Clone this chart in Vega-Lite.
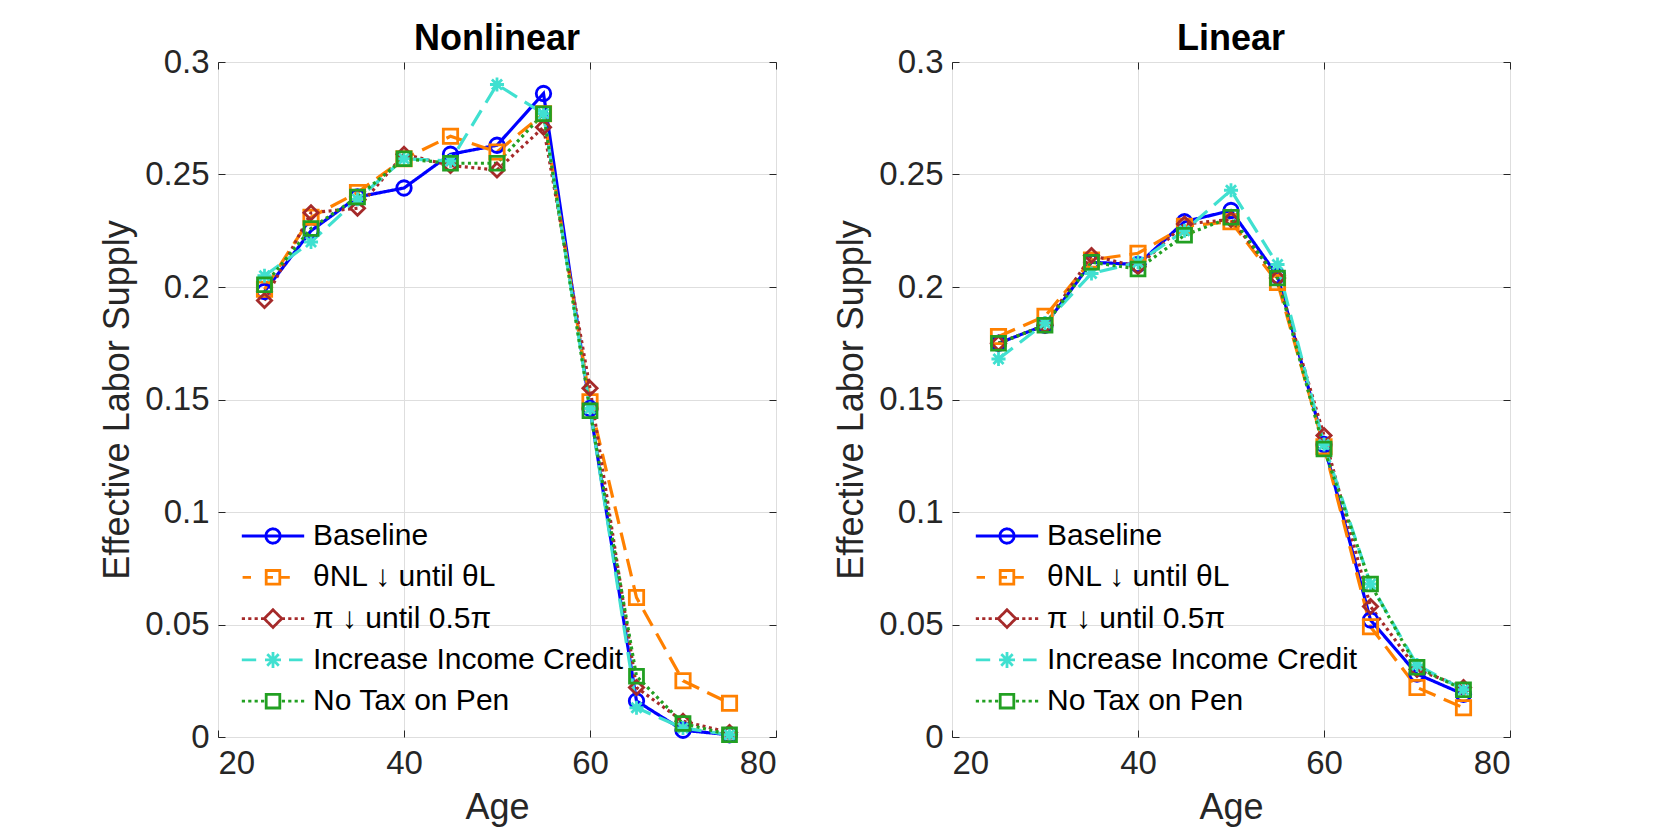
{
  "$schema": "https://vega.github.io/schema/vega-lite/v6.json",
  "autosize": {"type": "none"},
  "padding": {"left": 218, "top": 62, "right": 1449, "bottom": 771},
  "background": "white",
  "spacing": 176,
  "bounds": "flush",
  "datasets": {
    "pts": [
      {"panel": "Nonlinear", "series": "Baseline", "age": 25, "value": 0.198},
      {"panel": "Nonlinear", "series": "Baseline", "age": 30, "value": 0.225},
      {"panel": "Nonlinear", "series": "Baseline", "age": 35, "value": 0.240},
      {"panel": "Nonlinear", "series": "Baseline", "age": 40, "value": 0.244},
      {"panel": "Nonlinear", "series": "Baseline", "age": 45, "value": 0.259},
      {"panel": "Nonlinear", "series": "Baseline", "age": 50, "value": 0.263},
      {"panel": "Nonlinear", "series": "Baseline", "age": 55, "value": 0.286},
      {"panel": "Nonlinear", "series": "Baseline", "age": 60, "value": 0.146},
      {"panel": "Nonlinear", "series": "Baseline", "age": 65, "value": 0.016},
      {"panel": "Nonlinear", "series": "Baseline", "age": 70, "value": 0.003},
      {"panel": "Nonlinear", "series": "Baseline", "age": 75, "value": 0.001},
      {"panel": "Nonlinear", "series": "θNL ↓ until θL", "age": 25, "value": 0.199},
      {"panel": "Nonlinear", "series": "θNL ↓ until θL", "age": 30, "value": 0.231},
      {"panel": "Nonlinear", "series": "θNL ↓ until θL", "age": 35, "value": 0.242},
      {"panel": "Nonlinear", "series": "θNL ↓ until θL", "age": 40, "value": 0.257},
      {"panel": "Nonlinear", "series": "θNL ↓ until θL", "age": 45, "value": 0.267},
      {"panel": "Nonlinear", "series": "θNL ↓ until θL", "age": 50, "value": 0.260},
      {"panel": "Nonlinear", "series": "θNL ↓ until θL", "age": 55, "value": 0.277},
      {"panel": "Nonlinear", "series": "θNL ↓ until θL", "age": 60, "value": 0.149},
      {"panel": "Nonlinear", "series": "θNL ↓ until θL", "age": 65, "value": 0.062},
      {"panel": "Nonlinear", "series": "θNL ↓ until θL", "age": 70, "value": 0.025},
      {"panel": "Nonlinear", "series": "θNL ↓ until θL", "age": 75, "value": 0.015},
      {"panel": "Nonlinear", "series": "π ↓ until 0.5π", "age": 25, "value": 0.194},
      {"panel": "Nonlinear", "series": "π ↓ until 0.5π", "age": 30, "value": 0.233},
      {"panel": "Nonlinear", "series": "π ↓ until 0.5π", "age": 35, "value": 0.235},
      {"panel": "Nonlinear", "series": "π ↓ until 0.5π", "age": 40, "value": 0.259},
      {"panel": "Nonlinear", "series": "π ↓ until 0.5π", "age": 45, "value": 0.254},
      {"panel": "Nonlinear", "series": "π ↓ until 0.5π", "age": 50, "value": 0.252},
      {"panel": "Nonlinear", "series": "π ↓ until 0.5π", "age": 55, "value": 0.271},
      {"panel": "Nonlinear", "series": "π ↓ until 0.5π", "age": 60, "value": 0.155},
      {"panel": "Nonlinear", "series": "π ↓ until 0.5π", "age": 65, "value": 0.022},
      {"panel": "Nonlinear", "series": "π ↓ until 0.5π", "age": 70, "value": 0.007},
      {"panel": "Nonlinear", "series": "π ↓ until 0.5π", "age": 75, "value": 0.002},
      {"panel": "Nonlinear", "series": "Increase Income Credit", "age": 25, "value": 0.205},
      {"panel": "Nonlinear", "series": "Increase Income Credit", "age": 30, "value": 0.220},
      {"panel": "Nonlinear", "series": "Increase Income Credit", "age": 35, "value": 0.239},
      {"panel": "Nonlinear", "series": "Increase Income Credit", "age": 40, "value": 0.257},
      {"panel": "Nonlinear", "series": "Increase Income Credit", "age": 45, "value": 0.256},
      {"panel": "Nonlinear", "series": "Increase Income Credit", "age": 50, "value": 0.290},
      {"panel": "Nonlinear", "series": "Increase Income Credit", "age": 55, "value": 0.277},
      {"panel": "Nonlinear", "series": "Increase Income Credit", "age": 60, "value": 0.146},
      {"panel": "Nonlinear", "series": "Increase Income Credit", "age": 65, "value": 0.013},
      {"panel": "Nonlinear", "series": "Increase Income Credit", "age": 70, "value": 0.004},
      {"panel": "Nonlinear", "series": "Increase Income Credit", "age": 75, "value": 0.001},
      {"panel": "Nonlinear", "series": "No Tax on Pen", "age": 25, "value": 0.201},
      {"panel": "Nonlinear", "series": "No Tax on Pen", "age": 30, "value": 0.226},
      {"panel": "Nonlinear", "series": "No Tax on Pen", "age": 35, "value": 0.240},
      {"panel": "Nonlinear", "series": "No Tax on Pen", "age": 40, "value": 0.257},
      {"panel": "Nonlinear", "series": "No Tax on Pen", "age": 45, "value": 0.255},
      {"panel": "Nonlinear", "series": "No Tax on Pen", "age": 50, "value": 0.255},
      {"panel": "Nonlinear", "series": "No Tax on Pen", "age": 55, "value": 0.277},
      {"panel": "Nonlinear", "series": "No Tax on Pen", "age": 60, "value": 0.145},
      {"panel": "Nonlinear", "series": "No Tax on Pen", "age": 65, "value": 0.027},
      {"panel": "Nonlinear", "series": "No Tax on Pen", "age": 70, "value": 0.006},
      {"panel": "Nonlinear", "series": "No Tax on Pen", "age": 75, "value": 0.001},
      {"panel": "Linear", "series": "Baseline", "age": 25, "value": 0.175},
      {"panel": "Linear", "series": "Baseline", "age": 30, "value": 0.183},
      {"panel": "Linear", "series": "Baseline", "age": 35, "value": 0.211},
      {"panel": "Linear", "series": "Baseline", "age": 40, "value": 0.210},
      {"panel": "Linear", "series": "Baseline", "age": 45, "value": 0.229},
      {"panel": "Linear", "series": "Baseline", "age": 50, "value": 0.234},
      {"panel": "Linear", "series": "Baseline", "age": 55, "value": 0.205},
      {"panel": "Linear", "series": "Baseline", "age": 60, "value": 0.130},
      {"panel": "Linear", "series": "Baseline", "age": 65, "value": 0.052},
      {"panel": "Linear", "series": "Baseline", "age": 70, "value": 0.028},
      {"panel": "Linear", "series": "Baseline", "age": 75, "value": 0.019},
      {"panel": "Linear", "series": "θNL ↓ until θL", "age": 25, "value": 0.178},
      {"panel": "Linear", "series": "θNL ↓ until θL", "age": 30, "value": 0.187},
      {"panel": "Linear", "series": "θNL ↓ until θL", "age": 35, "value": 0.212},
      {"panel": "Linear", "series": "θNL ↓ until θL", "age": 40, "value": 0.215},
      {"panel": "Linear", "series": "θNL ↓ until θL", "age": 45, "value": 0.227},
      {"panel": "Linear", "series": "θNL ↓ until θL", "age": 50, "value": 0.229},
      {"panel": "Linear", "series": "θNL ↓ until θL", "age": 55, "value": 0.202},
      {"panel": "Linear", "series": "θNL ↓ until θL", "age": 60, "value": 0.129},
      {"panel": "Linear", "series": "θNL ↓ until θL", "age": 65, "value": 0.049},
      {"panel": "Linear", "series": "θNL ↓ until θL", "age": 70, "value": 0.022},
      {"panel": "Linear", "series": "θNL ↓ until θL", "age": 75, "value": 0.013},
      {"panel": "Linear", "series": "π ↓ until 0.5π", "age": 25, "value": 0.175},
      {"panel": "Linear", "series": "π ↓ until 0.5π", "age": 30, "value": 0.183},
      {"panel": "Linear", "series": "π ↓ until 0.5π", "age": 35, "value": 0.214},
      {"panel": "Linear", "series": "π ↓ until 0.5π", "age": 40, "value": 0.209},
      {"panel": "Linear", "series": "π ↓ until 0.5π", "age": 45, "value": 0.228},
      {"panel": "Linear", "series": "π ↓ until 0.5π", "age": 50, "value": 0.230},
      {"panel": "Linear", "series": "π ↓ until 0.5π", "age": 55, "value": 0.204},
      {"panel": "Linear", "series": "π ↓ until 0.5π", "age": 60, "value": 0.134},
      {"panel": "Linear", "series": "π ↓ until 0.5π", "age": 65, "value": 0.058},
      {"panel": "Linear", "series": "π ↓ until 0.5π", "age": 70, "value": 0.030},
      {"panel": "Linear", "series": "π ↓ until 0.5π", "age": 75, "value": 0.022},
      {"panel": "Linear", "series": "Increase Income Credit", "age": 25, "value": 0.168},
      {"panel": "Linear", "series": "Increase Income Credit", "age": 30, "value": 0.184},
      {"panel": "Linear", "series": "Increase Income Credit", "age": 35, "value": 0.206},
      {"panel": "Linear", "series": "Increase Income Credit", "age": 40, "value": 0.211},
      {"panel": "Linear", "series": "Increase Income Credit", "age": 45, "value": 0.225},
      {"panel": "Linear", "series": "Increase Income Credit", "age": 50, "value": 0.243},
      {"panel": "Linear", "series": "Increase Income Credit", "age": 55, "value": 0.210},
      {"panel": "Linear", "series": "Increase Income Credit", "age": 60, "value": 0.130},
      {"panel": "Linear", "series": "Increase Income Credit", "age": 65, "value": 0.068},
      {"panel": "Linear", "series": "Increase Income Credit", "age": 70, "value": 0.032},
      {"panel": "Linear", "series": "Increase Income Credit", "age": 75, "value": 0.021},
      {"panel": "Linear", "series": "No Tax on Pen", "age": 25, "value": 0.175},
      {"panel": "Linear", "series": "No Tax on Pen", "age": 30, "value": 0.183},
      {"panel": "Linear", "series": "No Tax on Pen", "age": 35, "value": 0.211},
      {"panel": "Linear", "series": "No Tax on Pen", "age": 40, "value": 0.208},
      {"panel": "Linear", "series": "No Tax on Pen", "age": 45, "value": 0.223},
      {"panel": "Linear", "series": "No Tax on Pen", "age": 50, "value": 0.231},
      {"panel": "Linear", "series": "No Tax on Pen", "age": 55, "value": 0.204},
      {"panel": "Linear", "series": "No Tax on Pen", "age": 60, "value": 0.128},
      {"panel": "Linear", "series": "No Tax on Pen", "age": 65, "value": 0.068},
      {"panel": "Linear", "series": "No Tax on Pen", "age": 70, "value": 0.031},
      {"panel": "Linear", "series": "No Tax on Pen", "age": 75, "value": 0.021}
    ]
  },
  "hconcat": [
    {
      "width": 558,
      "height": 675,
      "title": "Nonlinear",
      "data": {"name": "pts"},
      "transform": [{"filter": "datum.panel === 'Nonlinear'"}],
      "layer": [
        {
          "mark": {"type": "line", "strokeWidth": 3.2},
          "encoding": {
            "x": {"field": "age", "type": "quantitative", "scale": {"domain": [20, 80], "nice": false, "zero": false},
                  "axis": {"values": [20, 40, 60, 80], "title": "Age", "grid": true, "labelPadding": 17, "titlePadding": 10}},
            "y": {"field": "value", "type": "quantitative", "scale": {"domain": [0, 0.3], "nice": false},
                  "axis": {"values": [0, 0.05, 0.1, 0.15, 0.2, 0.25, 0.3], "format": "~g", "title": "Effective Labor Supply", "grid": true, "labelPadding": 16, "titlePadding": 8}},
            "color": {"field": "series", "type": "nominal",
                      "scale": {"domain": ["Baseline", "θNL ↓ until θL", "π ↓ until 0.5π", "Increase Income Credit", "No Tax on Pen"], "range": ["#0000FF", "#FF8000", "#A52A2A", "#40E0D0", "#22A022"]},
                      "legend": {"orient": "none", "legendX": 40, "legendY": 459, "title": null, "symbolSize": 256, "labelOffset": 25, "rowPadding": 11.3, "padding": 0,
                        "encode": {"symbols": {"update": {
                          "shape": {"signal": "['M-3.9,0L3.9,0M0.9,0L0.832,0.344L0.636,0.636L0.344,0.832L0,0.9L-0.344,0.832L-0.636,0.636L-0.832,0.344L-0.9,0L-0.832,-0.344L-0.636,-0.636L-0.344,-0.832L0,-0.9L0.344,-0.832L0.636,-0.636L0.832,-0.344Z', 'M-3.8,0L-2.75,0M-1,0L0,0M1,0L2.1,0M-0.85,-0.85L0.85,-0.85L0.85,0.85L-0.85,0.85Z', 'M-3.9,0L-3.5,0M-3.1,0L-2.7,0M-2.3,0L-1.9,0M-1.5,0L-1.1,0M1.1,0L1.5,0M1.9,0L2.3,0M2.7,0L3.1,0M3.5,0L3.9,0M0,-1.1L1.1,0L0,1.1L-1.1,0Z', 'M-3.9,0L-2.1,0M2.0,0L3.7,0M-1,0L1,0M0,-1L0,1M-0.72,-0.72L0.72,0.72M-0.72,0.72L0.72,-0.72', 'M-3.9,0L-3.5,0M-3.1,0L-2.7,0M-2.3,0L-1.9,0M-1.5,0L-1.1,0M1.1,0L1.5,0M1.9,0L2.3,0M2.7,0L3.1,0M3.5,0L3.9,0M-0.85,-0.85L0.85,-0.85L0.85,0.85L-0.85,0.85Z'][datum.index]"},
                          "stroke": {"signal": "['#0000FF','#FF8000','#A52A2A','#40E0D0','#22A022'][datum.index]"},
                          "fill": {"value": "transparent"},
                          "strokeWidth": {"value": 2.8},
                          "strokeDash": {"value": [1, 0]},
                          "opacity": {"value": 1},
                          "size": {"value": 256}
                        }}}}},
            "strokeDash": {"field": "series", "type": "nominal", "legend": null,
                           "scale": {"domain": ["Baseline", "θNL ↓ until θL", "π ↓ until 0.5π", "Increase Income Credit", "No Tax on Pen", "~"], "range": [[1, 0], [18, 9], [3, 3.5], [18, 9], [3, 3.5], [1, 0]]}}
          }
        },
        {
          "mark": {"type": "point", "filled": false, "strokeWidth": 2.8, "opacity": 1},
          "encoding": {
            "x": {"field": "age", "type": "quantitative", "axis": null},
            "y": {"field": "value", "type": "quantitative", "axis": null},
            "color": {"field": "series", "type": "nominal", "legend": null},
            "shape": {"field": "series", "type": "nominal", "legend": null,
                      "scale": {"domain": ["Baseline", "θNL ↓ until θL", "π ↓ until 0.5π", "Increase Income Credit", "No Tax on Pen", "~"], "range": ["circle", "square", "diamond", "M-1,0L1,0M0,-1L0,1M-0.72,-0.72L0.72,0.72M-0.72,0.72L0.72,-0.72", "square", "circle"]}},
            "size": {"field": "series", "type": "nominal", "legend": null,
                     "scale": {"domain": ["Baseline", "θNL ↓ until θL", "π ↓ until 0.5π", "Increase Income Credit", "No Tax on Pen", "~~"], "range": [210, 190, 300, 280, 190, 100]}}
          }
        },
        {
          "mark": {"type": "point", "opacity": 0},
          "encoding": {
            "x": {"field": "age", "type": "quantitative", "axis": {"orient": "top", "values": [20, 40, 60, 80], "labels": false, "grid": false, "title": null}},
            "y": {"field": "value", "type": "quantitative", "axis": {"orient": "right", "values": [0, 0.05, 0.1, 0.15, 0.2, 0.25, 0.3], "labels": false, "grid": false, "title": null}}
          }
        }
      ],
      "resolve": {"axis": {"x": "independent", "y": "independent"}}
    },
    {
      "width": 558,
      "height": 675,
      "title": "Linear",
      "data": {"name": "pts"},
      "transform": [{"filter": "datum.panel === 'Linear'"}],
      "layer": [
        {
          "mark": {"type": "line", "strokeWidth": 3.2},
          "encoding": {
            "x": {"field": "age", "type": "quantitative", "scale": {"domain": [20, 80], "nice": false, "zero": false},
                  "axis": {"values": [20, 40, 60, 80], "title": "Age", "grid": true, "labelPadding": 17, "titlePadding": 10}},
            "y": {"field": "value", "type": "quantitative", "scale": {"domain": [0, 0.3], "nice": false},
                  "axis": {"values": [0, 0.05, 0.1, 0.15, 0.2, 0.25, 0.3], "format": "~g", "title": "Effective Labor Supply", "grid": true, "labelPadding": 16, "titlePadding": 8}},
            "color": {"field": "series", "type": "nominal",
                      "scale": {"domain": ["Baseline", "θNL ↓ until θL", "π ↓ until 0.5π", "Increase Income Credit", "No Tax on Pen"], "range": ["#0000FF", "#FF8000", "#A52A2A", "#40E0D0", "#22A022"]},
                      "legend": {"orient": "none", "legendX": 40, "legendY": 459, "title": null, "symbolSize": 256, "labelOffset": 25, "rowPadding": 11.3, "padding": 0,
                        "encode": {"symbols": {"update": {
                          "shape": {"signal": "['M-3.9,0L3.9,0M0.9,0L0.832,0.344L0.636,0.636L0.344,0.832L0,0.9L-0.344,0.832L-0.636,0.636L-0.832,0.344L-0.9,0L-0.832,-0.344L-0.636,-0.636L-0.344,-0.832L0,-0.9L0.344,-0.832L0.636,-0.636L0.832,-0.344Z', 'M-3.8,0L-2.75,0M-1,0L0,0M1,0L2.1,0M-0.85,-0.85L0.85,-0.85L0.85,0.85L-0.85,0.85Z', 'M-3.9,0L-3.5,0M-3.1,0L-2.7,0M-2.3,0L-1.9,0M-1.5,0L-1.1,0M1.1,0L1.5,0M1.9,0L2.3,0M2.7,0L3.1,0M3.5,0L3.9,0M0,-1.1L1.1,0L0,1.1L-1.1,0Z', 'M-3.9,0L-2.1,0M2.0,0L3.7,0M-1,0L1,0M0,-1L0,1M-0.72,-0.72L0.72,0.72M-0.72,0.72L0.72,-0.72', 'M-3.9,0L-3.5,0M-3.1,0L-2.7,0M-2.3,0L-1.9,0M-1.5,0L-1.1,0M1.1,0L1.5,0M1.9,0L2.3,0M2.7,0L3.1,0M3.5,0L3.9,0M-0.85,-0.85L0.85,-0.85L0.85,0.85L-0.85,0.85Z'][datum.index]"},
                          "stroke": {"signal": "['#0000FF','#FF8000','#A52A2A','#40E0D0','#22A022'][datum.index]"},
                          "fill": {"value": "transparent"},
                          "strokeWidth": {"value": 2.8},
                          "strokeDash": {"value": [1, 0]},
                          "opacity": {"value": 1},
                          "size": {"value": 256}
                        }}}}},
            "strokeDash": {"field": "series", "type": "nominal", "legend": null,
                           "scale": {"domain": ["Baseline", "θNL ↓ until θL", "π ↓ until 0.5π", "Increase Income Credit", "No Tax on Pen", "~"], "range": [[1, 0], [18, 9], [3, 3.5], [18, 9], [3, 3.5], [1, 0]]}}
          }
        },
        {
          "mark": {"type": "point", "filled": false, "strokeWidth": 2.8, "opacity": 1},
          "encoding": {
            "x": {"field": "age", "type": "quantitative", "axis": null},
            "y": {"field": "value", "type": "quantitative", "axis": null},
            "color": {"field": "series", "type": "nominal", "legend": null},
            "shape": {"field": "series", "type": "nominal", "legend": null,
                      "scale": {"domain": ["Baseline", "θNL ↓ until θL", "π ↓ until 0.5π", "Increase Income Credit", "No Tax on Pen", "~"], "range": ["circle", "square", "diamond", "M-1,0L1,0M0,-1L0,1M-0.72,-0.72L0.72,0.72M-0.72,0.72L0.72,-0.72", "square", "circle"]}},
            "size": {"field": "series", "type": "nominal", "legend": null,
                     "scale": {"domain": ["Baseline", "θNL ↓ until θL", "π ↓ until 0.5π", "Increase Income Credit", "No Tax on Pen", "~~"], "range": [210, 190, 300, 280, 190, 100]}}
          }
        },
        {
          "mark": {"type": "point", "opacity": 0},
          "encoding": {
            "x": {"field": "age", "type": "quantitative", "axis": {"orient": "top", "values": [20, 40, 60, 80], "labels": false, "grid": false, "title": null}},
            "y": {"field": "value", "type": "quantitative", "axis": {"orient": "right", "values": [0, 0.05, 0.1, 0.15, 0.2, 0.25, 0.3], "labels": false, "grid": false, "title": null}}
          }
        }
      ],
      "resolve": {"axis": {"x": "independent", "y": "independent"}}
    }
  ],
  "resolve": {
    "scale": {"color": "independent", "shape": "independent", "size": "independent", "strokeDash": "independent"},
    "legend": {"color": "independent"}
  },
  "config": {
    "font": "Liberation Sans",
    "view": {"stroke": "#262626", "strokeWidth": 1},
    "axis": {
      "labelFont": "Liberation Sans", "labelFontSize": 33, "labelColor": "#262626",
      "titleFont": "Liberation Sans", "titleFontSize": 36, "titleFontWeight": "normal", "titleColor": "#262626",
      "gridColor": "#dedede", "gridWidth": 1, "gridOpacity": 1,
      "domain": false, "ticks": true, "tickColor": "#262626", "tickSize": -7, "tickWidth": 1
    },
    "title": {"font": "Liberation Sans", "fontSize": 36, "fontWeight": "bold", "color": "#000000", "anchor": "middle", "baseline": "alphabetic", "frame": "group", "offset": -12},
    "legend": {"labelFont": "Liberation Sans", "labelFontSize": 30, "labelColor": "#000000", "symbolStrokeWidth": 2.8, "labelLimit": 500}
  }
}
